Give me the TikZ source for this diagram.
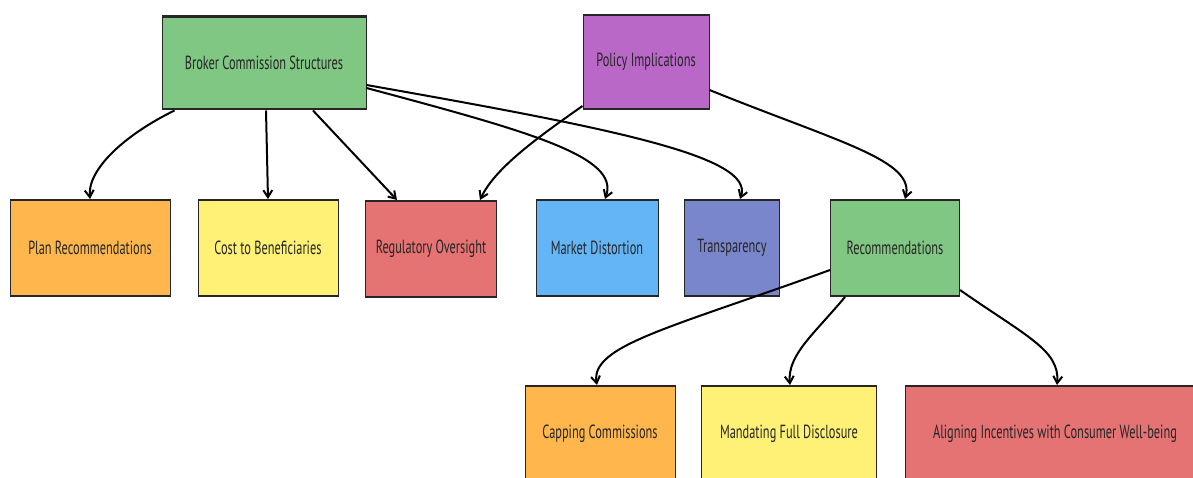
\documentclass[tikz,border=0pt]{standalone}
\usepackage{fontspec}
\setmainfont[FakeStretch=0.65]{PT Sans}
\usetikzlibrary{arrows.meta,positioning}
\definecolor{mdgreen}{HTML}{81C784}
\definecolor{mdpurple}{HTML}{BA68C8}
\definecolor{mdorange}{HTML}{FFB74D}
\definecolor{mdyellow}{HTML}{FFF176}
\definecolor{mdred}{HTML}{E57373}
\definecolor{mdblue}{HTML}{64B5F6}
\definecolor{mdindigo}{HTML}{7986CB}
\tikzset{
box/.style={draw=black!85, line width=1pt, minimum height=97pt, inner sep=0pt,
  font=\fontsize{19}{22}\selectfont, text=black!85,
  path picture={\draw[line width=3.5pt,black!85]
    (path picture bounding box.north west) -- (path picture bounding box.north east)
    (path picture bounding box.south west) -- (path picture bounding box.south east);}},
link/.style={-{Straight Barb[length=7pt,width=9pt]}, line width=2pt},
}

\begin{document}
\begin{tikzpicture}[x=1pt,y=1pt]
   \useasboundingbox (0,0) rectangle (1193,-478);
   \clip (0,0) rectangle (1193,-478);
   % top row
   \node[box, fill=mdgreen, minimum width=204pt, minimum height=94pt] (bcs) at (264,-63) {Broker Commission Structures};
   \node[box, fill=mdpurple, minimum width=126pt, minimum height=95pt] (policy) at (646,-62) {Policy Implications};
   % middle row
   \node[box, fill=mdorange, minimum width=160pt] (planrec) at (90,-248) {Plan Recommendations};
   \node[box, fill=mdyellow, minimum width=140pt] (cost) at (268,-248) {Cost to Beneficiaries};
   \node[box, fill=mdred, minimum width=131pt] (regov) at (431,-249) {Regulatory Oversight};
   \node[box, fill=mdblue, minimum width=122pt] (market) at (597,-248) {Market Distortion};
   \node[box, fill=mdindigo, minimum width=95pt] (transp) at (732,-248) {Transparency};
   \node[box, fill=mdgreen, minimum width=129pt] (recs) at (895,-248) {Recommendations};
   % bottom row
   \node[box, fill=mdorange, minimum width=150pt] (capping) at (600,-434) {Capping Commissions};
   \node[box, fill=mdyellow, minimum width=175pt] (disclose) at (789,-434) {Mandating Full Disclosure};
   \node[box, fill=mdred, minimum width=300pt] (align) at (1055,-434) {Aligning Incentives with Consumer Well-being};
   \path[link]
    ([xshift=13pt]bcs.south west) edge[out=206,in=95,out distance=55pt,in distance=30pt] (planrec.north)
    ([xshift=2pt]bcs.south) edge (cost.north)
    ([xshift=49pt]bcs.south) edge ([xshift=-34pt]regov.north)
    ([yshift=-25pt]bcs.east) edge[out=-15,in=70,out distance=170pt,in distance=45pt] ([xshift=8pt]market.north)
    ([yshift=-22pt]bcs.east) edge[out=-10,in=70,out distance=250pt,in distance=45pt] ([xshift=8pt]transp.north)
    ([yshift=4pt]policy.south west) edge[out=215,in=65,out distance=55pt,in distance=35pt] ([xshift=49pt]regov.north)
    ([yshift=-28pt]policy.east) edge[out=-22,in=75,out distance=140pt,in distance=40pt] ([xshift=10pt]recs.north)
    ([yshift=-22pt]recs.west) edge[out=200,in=100,out distance=170pt,in distance=40pt] ([xshift=-3pt]capping.north)
    ([xshift=-50pt]recs.south) edge[out=230,in=95,out distance=50pt,in distance=30pt] ([xshift=1pt]disclose.north)
    ([yshift=-42pt]recs.east) edge[out=-35,in=85,out distance=80pt,in distance=35pt] ([xshift=2pt]align.north);
\end{tikzpicture}
\end{document}
